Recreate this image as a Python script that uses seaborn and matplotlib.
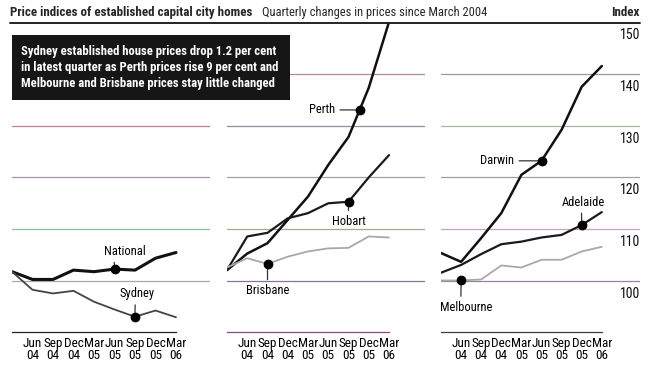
import numpy as np
import pandas as pd
import seaborn as sns
import matplotlib.pyplot as plt
import matplotlib.transforms as mtrans
from matplotlib import font_manager
from matplotlib.patches import Rectangle
from matplotlib.lines import Line2D

# data (index values, quarterly Mar 04 -> Mar 06)
quarters = ['Mar\n04', 'Jun\n04', 'Sep\n04', 'Dec\n04', 'Mar\n05',
            'Jun\n05', 'Sep\n05', 'Dec\n05', 'Mar\n06']
national = [101.8, 100.3, 100.3, 102.1, 101.8, 102.3, 102.1, 104.4, 105.5]
sydney = [101.8, 98.3, 97.6, 98.1, 96.0, 94.5, 93.1, 94.3, 93.0]
perth = [102.1, 105.3, 107.3, 111.8, 116.3, 122.4, 127.8, 137.3, 150.0]
hobart = [102.1, 108.6, 109.3, 112.1, 113.1, 115.0, 115.3, 120.0, 124.3]
brisbane = [102.6, 104.4, 103.3, 104.7, 105.7, 106.3, 106.4, 108.6, 108.4]
darwin = [105.4, 103.7, 108.3, 113.1, 120.5, 123.2, 129.2, 137.5, 141.5]
adelaide = [101.6, 103.1, 105.2, 107.1, 107.6, 108.4, 108.9, 110.8, 113.3]
melbourne = [100.1, 100.1, 100.3, 103.0, 102.6, 104.1, 104.1, 105.7, 106.6]
index_ticks = [100, 110, 120, 130, 140, 150]

df = pd.DataFrame({'pos': np.arange(len(quarters)),
                   'National': national, 'Sydney': sydney,
                   'Perth': perth, 'Hobart': hobart, 'Brisbane': brisbane,
                   'Darwin': darwin, 'Adelaide': adelaide, 'Melbourne': melbourne})

sns.set_style('white')
names = {f.name for f in font_manager.fontManager.ttflist}
narrow = 'Liberation Sans'
for cand in ['Roboto Condensed', 'Archivo Narrow', 'Liberation Sans Narrow', 'Asap Condensed']:
    if cand in names:
        narrow = cand
        break
plt.rcParams['font.family'] = [narrow, 'DejaVu Sans']

W, H = 650, 375
fig = plt.figure(figsize=(6.5, 3.75), dpi=100)
fig.patch.set_facecolor('white')


def px_axes(x0, x1, y0, y1):
    return fig.add_axes([x0 / W, 1 - y1 / H, (x1 - x0) / W, (y1 - y0) / H])


# (left px, right px, px per quarter, gridline colours 100..140, axis colour)
layout = [
    (12, 210, 20.5, ['#a8a8a8', '#8fc08f', '#a894aa', '#c08090', '#b0a0b0'], '#222222'),
    (227, 425, 20.25, ['#8c7096', '#aaa890', '#a0a4a0', '#9a8aa0', '#b08a9a'], '#8a4a7a'),
    (441, 640, 20.1, ['#9a7fa0', '#c8a0c0', '#a0a0a0', '#a0b8a0', '#9a9a9a'], '#334433'),
]

# (series, colour, linewidth, marker position, label offset pt, relpos, ha)
panel_series = [
    [('National', '#111111', 2.2, 5, (7.2, 13), (0.25, 0), 'center'),
     ('Sydney', '#444444', 1.3, 6, (1.4, 16.6), (0.45, 0), 'center')],
    [('Perth', '#111111', 1.8, 6.55, (-17.5, 0), (1, 0.5), 'right'),
     ('Hobart', '#1a1a1a', 1.6, 6, (0, -14.4), (0.5, 1), 'center'),
     ('Brisbane', '#a8a8a8', 1.3, 2, (0, -19.4), (0.5, 1), 'center')],
    [('Darwin', '#111111', 1.8, 5, (-19.5, 0), (1, 0.5), 'right'),
     ('Adelaide', '#1a1a1a', 1.6, 7, (1.4, 16.6), (0.45, 0), 'center'),
     ('Melbourne', '#a8a8a8', 1.3, 1, (3.6, -19.4), (0.4, 1), 'center')],
]

y_lo = 100 - (332 - 281) / 5.18
axes = []
for (x0, x1, per_q, gcols, acol), series in zip(layout, panel_series):
    ax = px_axes(x0, x1, 22, 332)
    axes.append(ax)
    ax.set_xlim(0, (x1 - x0) / per_q)
    ax.set_ylim(y_lo, 150)
    for v, c in zip(index_ticks[:-1], gcols):
        ax.axhline(v, color=c, lw=0.9, zorder=0)
    for name, col, lw, mpos, off, rel, ha in series:
        sns.lineplot(data=df, x='pos', y=name, ax=ax, color=col, linewidth=lw,
                     zorder=3, clip_on=True)
        my = np.interp(mpos, df['pos'], df[name])
        ax.plot([mpos], [my], 'o', color='black', ms=6, zorder=5)
        ax.annotate(name, xy=(mpos, my), xytext=off, textcoords='offset points',
                    ha=ha, va='center', fontsize=9, color='black',
                    arrowprops=dict(arrowstyle='-', color='#333333', lw=0.9,
                                    relpos=rel, shrinkA=1, shrinkB=0))
    for s in ['left', 'right', 'top']:
        ax.spines[s].set_visible(False)
    ax.spines['bottom'].set_bounds(0, len(quarters) - 1)
    ax.spines['bottom'].set_color(acol)
    ax.spines['bottom'].set_linewidth(0.9)
    ax.set_xticks(range(len(quarters)))
    ax.set_xticklabels([''] + quarters[1:], fontsize=9.5, linespacing=0.95)
    ax.tick_params(axis='x', direction='in', length=4, width=0.8, color=acol,
                   pad=3.5, labelcolor='black')
    ax.set_yticks([])
    ax.set_xlabel('')
    ax.set_ylabel('')
    ax.patch.set_alpha(0)

# index labels on the right of the last panel
ax3 = axes[-1]
tr = mtrans.blended_transform_factory(ax3.transAxes, ax3.transData)
for v in index_ticks:
    ax3.text(1.0, v - 2.5, str(v), transform=tr, ha='right', va='center',
             fontsize=10, color='#111111')

# header
fig.text(10 / W, 1 - 12.5 / H, 'Price indices of established capital city homes',
         fontsize=9.4, fontweight='bold', va='center', ha='left')
fig.text(262 / W, 1 - 12.5 / H, 'Quarterly changes in prices since March 2004',
         fontsize=9, va='center', ha='left')
fig.text(639 / W, 1 - 12.5 / H, 'Index', fontsize=9.4, fontweight='bold',
         va='center', ha='right')
fig.add_artist(Line2D([10 / W, 640 / W], [1 - 22.5 / H, 1 - 22.5 / H],
                      color='#1a2a1a', lw=1.4))

# black summary box
fig.add_artist(Rectangle((12 / W, 1 - 100 / H), 278 / W, 65 / H,
                         facecolor='#161616', edgecolor='none', zorder=10))
fig.text(21 / W, 1 - 67.5 / H,
         'Sydney established house prices drop 1.2 per cent\n'
         'in latest quarter as Perth prices rise 9 per cent and\n'
         'Melbourne and Brisbane prices stay little changed',
         color='white', fontsize=9.1, fontweight='bold', va='center', ha='left',
         linespacing=1.26, zorder=11)

fig.savefig('out.png', dpi=100)
